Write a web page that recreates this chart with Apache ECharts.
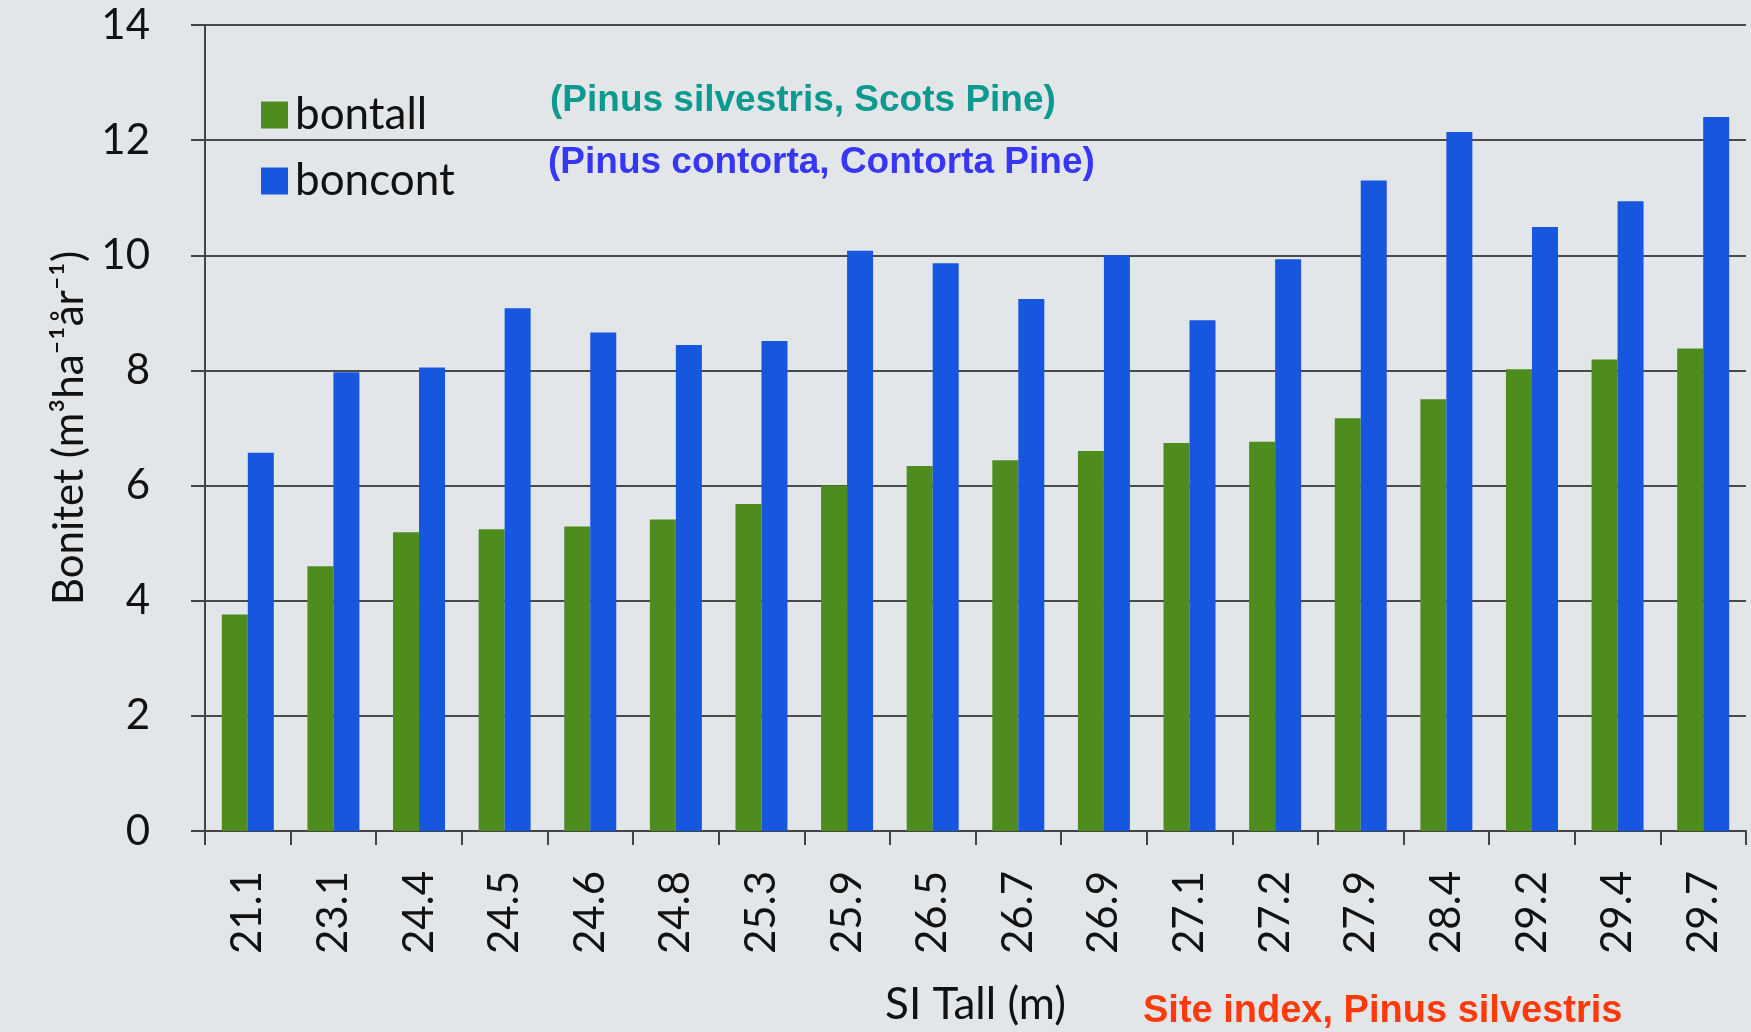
<!DOCTYPE html>
<html>
<head>
<meta charset="utf-8">
<title>Bonitet</title>
<script src="https://cdn.jsdelivr.net/npm/echarts@6/dist/echarts.min.js"></script>
<style>
  html, body { margin: 0; padding: 0; background: #e2e6e9; }
  #chart { width: 1751px; height: 1032px; }
</style>
</head>
<body>
<div id="chart"></div>
<script>
// SI Tall (m) categories
var siTall = ['21.1', '23.1', '24.4', '24.5', '24.6', '24.8', '25.3', '25.9', '26.5',
  '26.7', '26.9', '27.1', '27.2', '27.9', '28.4', '29.2', '29.4', '29.7'];
// bonitet
var bontall = [3.76, 4.6, 5.19, 5.24, 5.29, 5.41, 5.68, 6.0, 6.34,
  6.44, 6.6, 6.74, 6.76, 7.17, 7.5, 8.02, 8.19, 8.38];
var boncont = [6.57, 7.97, 8.05, 9.08, 8.66, 8.44, 8.51, 10.08, 9.86,
  9.24, 10.0, 8.87, 9.93, 11.3, 12.14, 10.49, 10.94, 12.4];

var font = 'Lato, "Open Sans", sans-serif';
var boldFont = '"Liberation Sans", Arial, sans-serif';
var myChart = echarts.init(document.getElementById('chart'));

var option = {
  backgroundColor: '#e2e6e9',
  animation: false,
  title: [
    {
      text: '(Pinus silvestris, Scots Pine)',
      left: 545, top: 77,
      textStyle: { color: '#0b9a8e', fontSize: 37, fontWeight: 'bold', fontFamily: boldFont }
    },
    {
      text: '(Pinus contorta, Contorta Pine)',
      left: 543, top: 139,
      textStyle: { color: '#3636f4', fontSize: 37, fontWeight: 'bold', fontFamily: boldFont }
    },
    {
      text: 'Site index, Pinus silvestris',
      left: 1138, top: 988,
      textStyle: { color: '#ff3a0a', fontSize: 38, fontWeight: 'bold', fontFamily: boldFont }
    }
  ],
  legend: {
    orient: 'vertical',
    left: 256, top: 88,
    itemWidth: 27, itemHeight: 27,
    itemGap: 22,
    icon: 'rect',
    textStyle: { color: '#111', fontSize: 44, fontFamily: font, padding: [0, 0, 0, 2] },
    data: ['bontall', 'boncont']
  },
  grid: {
    left: 205,
    right: 5,
    top: 25,
    bottom: 192
  },
  xAxis: {
    type: 'category',
    data: siTall,
    name: 'SI Tall (m)',
    nameLocation: 'middle',
    nameGap: 152,
    nameTextStyle: { color: '#111', fontSize: 44, fontFamily: font },
    axisLine: { lineStyle: { color: '#444', width: 2 } },
    axisTick: { show: true, length: 14, lineStyle: { color: '#444', width: 2 } },
    axisLabel: {
      rotate: 90,
      margin: 40,
      color: '#111',
      fontSize: 42,
      fontFamily: font
    }
  },
  yAxis: {
    type: 'value',
    min: 0,
    max: 14,
    interval: 2,
    name: 'Bonitet (m³ha⁻¹år⁻¹)',
    nameLocation: 'middle',
    nameRotate: 90,
    nameGap: 109,
    nameTextStyle: { color: '#111', fontSize: 42, fontFamily: font },
    axisLine: { show: true, lineStyle: { color: '#444', width: 2 } },
    axisTick: { show: true, length: 14, lineStyle: { color: '#444', width: 2 } },
    axisLabel: { margin: 55, color: '#111', fontSize: 42, fontFamily: font },
    splitLine: { lineStyle: { color: '#4a4a4a', width: 2 } }
  },
  series: [
    {
      name: 'bontall',
      type: 'bar',
      data: bontall,
      barWidth: 26,
      barGap: '0%',
      itemStyle: { color: '#4e8c1e' }
    },
    {
      name: 'boncont',
      type: 'bar',
      data: boncont,
      barWidth: 26,
      itemStyle: { color: '#1757e0' }
    }
  ]
};

myChart.setOption(option);
</script>
</body>
</html>
